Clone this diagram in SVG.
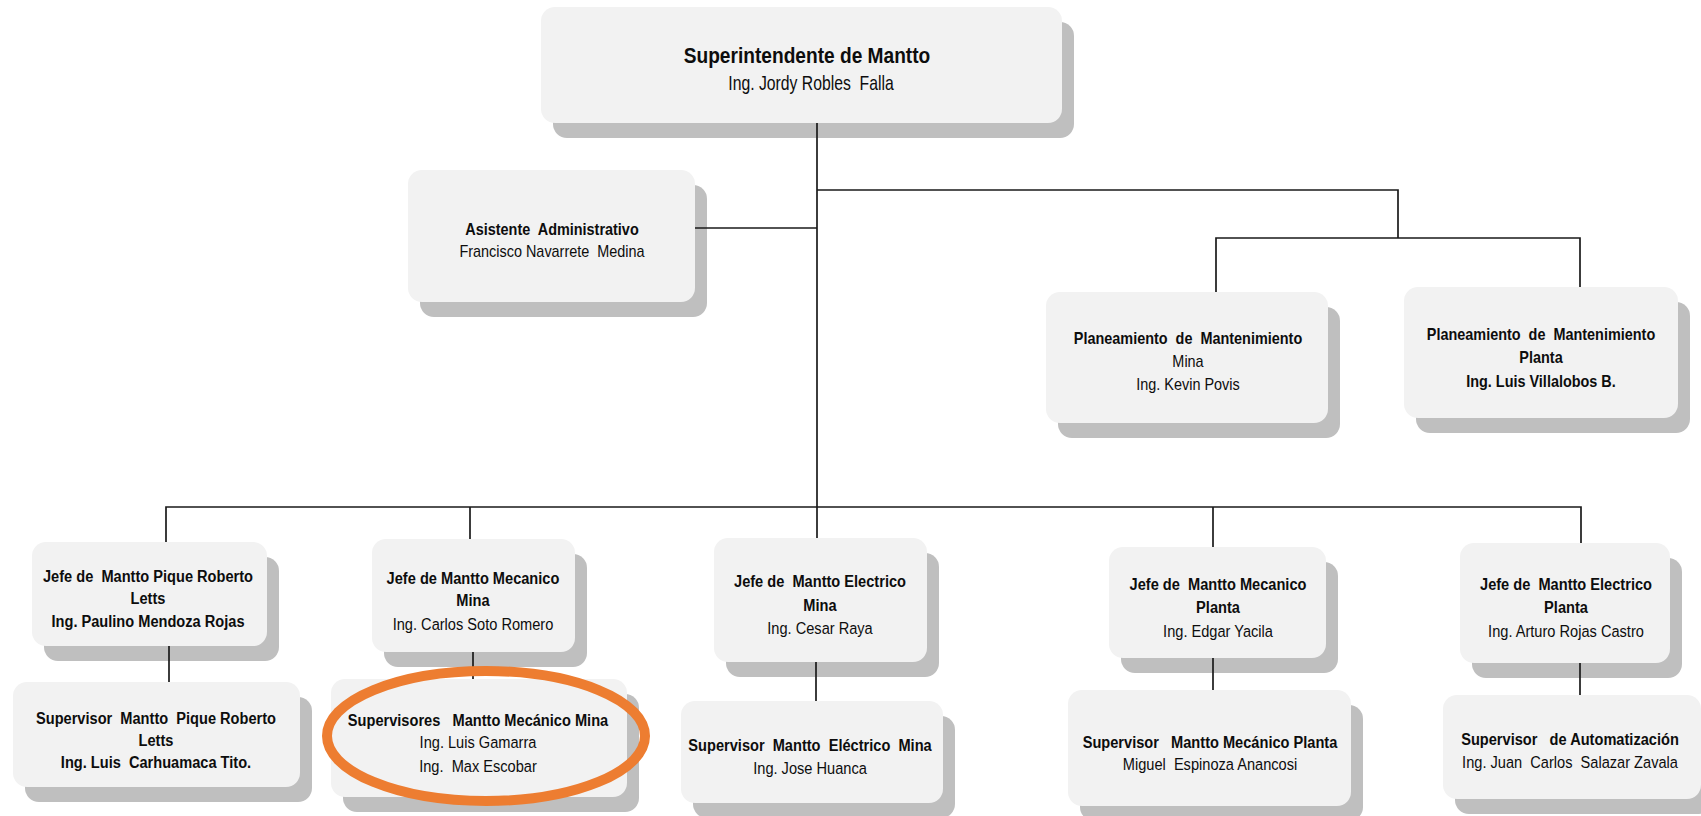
<svg xmlns="http://www.w3.org/2000/svg" width="1701" height="816" viewBox="0 0 1701 816">
<style>
.bx{fill:#F2F2F2}
.sh{fill:#BFBFBF}
.b,.r{font-family:"Liberation Sans",Arial,sans-serif;font-size:17.4px;fill:#0d0d0d;text-anchor:middle;white-space:pre}
.b{font-weight:bold}
.ln{stroke:#1a1a1a;stroke-width:1.7;fill:none}
.hl{fill:none;stroke:#ED7D31;stroke-width:10}
</style>
<rect width="1701" height="816" fill="#fff"/>
<g id="n-superintendente">
<rect class="sh" x="553" y="22" width="521" height="116" rx="14"/>
<rect class="bx" x="541" y="7" width="521" height="116" rx="14"/>
<g transform="translate(807 0) scale(0.87 1)"><text class="b" x="0" y="63" style="font-size:22px">Superintendente de Mantto</text></g>
<g transform="translate(811 0) scale(0.75 1)"><text class="r" x="0" y="90" style="font-size:21px">Ing. Jordy Robles  Falla</text></g>
</g>
<g id="n-asistente">
<rect class="sh" x="420" y="185" width="287" height="132" rx="14"/>
<rect class="bx" x="408" y="170" width="287" height="132" rx="14"/>
<g transform="translate(552 0) scale(0.83 1)"><text class="b" x="0" y="235">Asistente  Administrativo</text><text class="r" x="0" y="257">Francisco Navarrete  Medina</text></g>
</g>
<g id="n-plan-mina">
<rect class="sh" x="1058" y="307" width="282" height="131" rx="14"/>
<rect class="bx" x="1046" y="292" width="282" height="131" rx="14"/>
<g transform="translate(1188 0) scale(0.83 1)"><text class="b" x="0" y="344">Planeamiento  de  Mantenimiento</text><text class="r" x="0" y="367">Mina</text><text class="r" x="0" y="390">Ing. Kevin Povis</text></g>
</g>
<g id="n-plan-planta">
<rect class="sh" x="1416" y="302" width="274" height="131" rx="14"/>
<rect class="bx" x="1404" y="287" width="274" height="131" rx="14"/>
<g transform="translate(1541 0) scale(0.83 1)"><text class="b" x="0" y="340">Planeamiento  de  Mantenimiento</text><text class="b" x="0" y="363">Planta</text><text class="b" x="0" y="387">Ing. Luis Villalobos B.</text></g>
</g>
<g id="n-jefe-pique">
<rect class="sh" x="44" y="557" width="235" height="104" rx="14"/>
<rect class="bx" x="32" y="542" width="235" height="104" rx="14"/>
<g transform="translate(148 0) scale(0.84 1)"><text class="b" x="0" y="582">Jefe de  Mantto Pique Roberto</text><text class="b" x="0" y="604">Letts</text><text class="b" x="0" y="627">Ing. Paulino Mendoza Rojas</text></g>
</g>
<g id="n-sup-pique">
<rect class="sh" x="25" y="697" width="287" height="105" rx="14"/>
<rect class="bx" x="13" y="682" width="287" height="105" rx="14"/>
<g transform="translate(156 0) scale(0.84 1)"><text class="b" x="0" y="724">Supervisor  Mantto  Pique Roberto</text><text class="b" x="0" y="746">Letts</text><text class="b" x="0" y="768">Ing. Luis  Carhuamaca Tito.</text></g>
</g>
<g id="n-jefe-mec-mina">
<rect class="sh" x="384" y="554" width="203" height="113" rx="14"/>
<rect class="bx" x="372" y="539" width="203" height="113" rx="14"/>
<g transform="translate(473 0) scale(0.84 1)"><text class="b" x="0" y="584">Jefe de Mantto Mecanico</text><text class="b" x="0" y="606">Mina</text><text class="r" x="0" y="630">Ing. Carlos Soto Romero</text></g>
</g>
<g id="n-sup-mec-mina">
<rect class="sh" x="343" y="694" width="296" height="118" rx="14"/>
<rect class="bx" x="331" y="679" width="296" height="118" rx="14"/>
<g transform="translate(478 0) scale(0.84 1)"><text class="b" x="0" y="726">Supervisores   Mantto Mecánico Mina</text><text class="r" x="0" y="748">Ing. Luis Gamarra</text><text class="r" x="0" y="772">Ing.  Max Escobar</text></g>
</g>
<g id="n-jefe-elec-mina">
<rect class="sh" x="726" y="553" width="213" height="124" rx="14"/>
<rect class="bx" x="714" y="538" width="213" height="124" rx="14"/>
<g transform="translate(820 0) scale(0.84 1)"><text class="b" x="0" y="587">Jefe de  Mantto Electrico</text><text class="b" x="0" y="611">Mina</text><text class="r" x="0" y="634">Ing. Cesar Raya</text></g>
</g>
<g id="n-sup-elec-mina">
<rect class="sh" x="693" y="716" width="262" height="102" rx="14"/>
<rect class="bx" x="681" y="701" width="262" height="102" rx="14"/>
<g transform="translate(810 0) scale(0.84 1)"><text class="b" x="0" y="751">Supervisor  Mantto  Eléctrico  Mina</text><text class="r" x="0" y="774">Ing. Jose Huanca</text></g>
</g>
<g id="n-jefe-mec-planta">
<rect class="sh" x="1121" y="562" width="217" height="111" rx="14"/>
<rect class="bx" x="1109" y="547" width="217" height="111" rx="14"/>
<g transform="translate(1218 0) scale(0.84 1)"><text class="b" x="0" y="590">Jefe de  Mantto Mecanico</text><text class="b" x="0" y="613">Planta</text><text class="r" x="0" y="637">Ing. Edgar Yacila</text></g>
</g>
<g id="n-sup-mec-planta">
<rect class="sh" x="1080" y="705" width="283" height="116" rx="14"/>
<rect class="bx" x="1068" y="690" width="283" height="116" rx="14"/>
<g transform="translate(1210 0) scale(0.84 1)"><text class="b" x="0" y="748">Supervisor   Mantto Mecánico Planta</text><text class="r" x="0" y="770">Miguel  Espinoza Anancosi</text></g>
</g>
<g id="n-jefe-elec-planta">
<rect class="sh" x="1472" y="558" width="210" height="120" rx="14"/>
<rect class="bx" x="1460" y="543" width="210" height="120" rx="14"/>
<g transform="translate(1566 0) scale(0.84 1)"><text class="b" x="0" y="590">Jefe de  Mantto Electrico</text><text class="b" x="0" y="613">Planta</text><text class="r" x="0" y="637">Ing. Arturo Rojas Castro</text></g>
</g>
<g id="n-sup-auto">
<rect class="sh" x="1455" y="710" width="258" height="104" rx="14"/>
<rect class="bx" x="1443" y="695" width="258" height="104" rx="14"/>
<g transform="translate(1570 0) scale(0.84 1)"><text class="b" x="0" y="745">Supervisor   de Automatización</text><text class="r" x="0" y="768">Ing. Juan  Carlos  Salazar Zavala</text></g>
</g>
<g id="connectors" class="ln">
<path d="M817 123V538"/>
<path d="M695 228H817"/>
<path d="M817 190H1398V238"/>
<path d="M1216 292V238H1580V287"/>
<path d="M166 542V507H1581V543"/>
<path d="M470 507V539"/>
<path d="M1213 507V547"/>
<path d="M169 646V682"/>
<path d="M473 652V679"/>
<path d="M816 662V701"/>
<path d="M1213 658V690"/>
<path d="M1580 663V695"/>
</g>
<g id="highlight">
<ellipse class="hl" cx="486" cy="736" rx="159" ry="65"/>
</g>
</svg>
